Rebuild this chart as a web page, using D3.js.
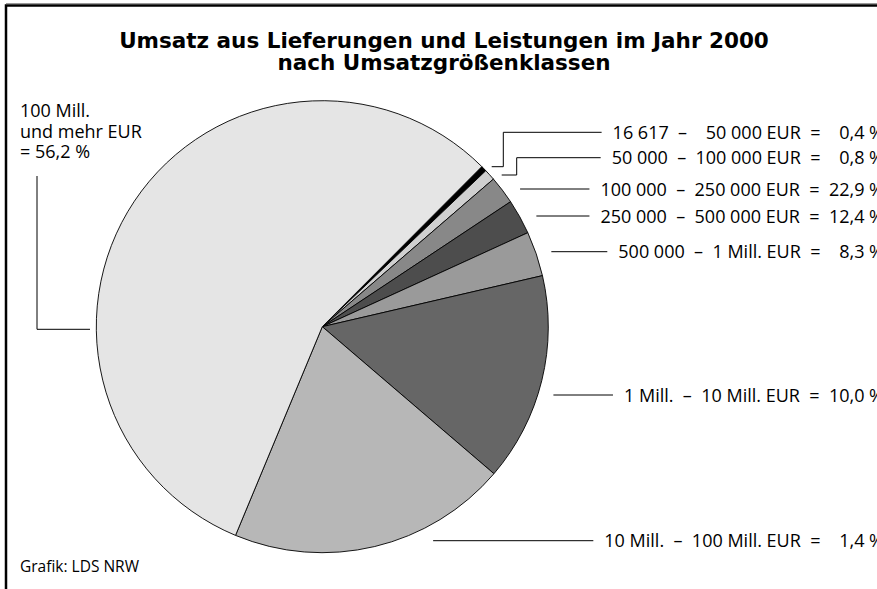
<html>
<head>
<script src="https://d3js.org/d3.v7.min.js"></script>
<style>
    body { margin: 0; background: #fff; }
    text { font-family: "Open Sans", sans-serif; fill: #000; }
</style>
</head>
<body>
<div id="chartcontainer"></div>
<script>
// slice shares as drawn in the picture, clockwise starting at the black sliver
var classes = ["16 617 – 50 000", "50 000 – 100 000", "100 000 – 250 000", "250 000 – 500 000",
               "500 000 – 1 Mill.", "1 Mill. – 10 Mill.", "10 Mill. – 100 Mill.", "100 Mill. und mehr"];
var shares = [0.4, 0.8, 2.0, 2.5, 3.2, 14.9, 20.0, 56.2];
var fills = ["#000000", "#d0d0d0", "#888888", "#4d4d4d", "#9a9a9a", "#666666", "#b7b7b7", "#e5e5e5"];

// labels as printed on the graphic (right-hand column, then the big slice)
var rightLabels = ["16 617  –    50 000 EUR  =    0,4 %",
                   "50 000  –  100 000 EUR  =    0,8 %",
                   "100 000  –  250 000 EUR  =  22,9 %",
                   "250 000  –  500 000 EUR  =  12,4 %",
                   "500 000  –  1 Mill. EUR  =    8,3 %",
                   "1 Mill.  –  10 Mill. EUR  =  10,0 %",
                   "10 Mill.  –  100 Mill. EUR  =    1,4 %"];
var leftLabel = ["100 Mill.", "und mehr EUR", "= 56,2 %"];
var titleLines = ["Umsatz aus Lieferungen und Leistungen im Jahr 2000", "nach Umsatzgrößenklassen"];

var width = 877, height = 589;
var cx = 322.3, cy = 326.7, r = 226;
var startDeg = 44.9;

var svg = d3.select("#chartcontainer").append("svg")
    .attr("width", width).attr("height", height);

// frame
svg.append("line").attr("x1", 6).attr("x2", width).attr("y1", 3.5).attr("y2", 3.5)
    .attr("stroke", "#9a9a9a").attr("stroke-width", 1);
svg.append("path").attr("d", "M6," + height + "V5.5H" + width)
    .attr("fill", "none").attr("stroke", "#000").attr("stroke-width", 2.5);

// title, font sized so the first line spans the same width as in the original
var titles = svg.selectAll(".title").data(titleLines).enter().append("text")
    .attr("class", "title")
    .attr("x", 444).attr("y", function(d, i) { return 48 + i * 22; })
    .attr("text-anchor", "middle")
    .style("font-family", "'DejaVu Sans', sans-serif")
    .style("font-weight", "bold").style("font-size", "20px")
    .text(function(d) { return d; });
var tw = titles.node().getComputedTextLength();
titles.style("font-size", (20 * 650 / tw) + "px");

// pie
var pie = d3.pie().sort(null)
    .startAngle(startDeg * Math.PI / 180)
    .endAngle((startDeg + 360) * Math.PI / 180);
var arc = d3.arc().innerRadius(0).outerRadius(r);

var g = svg.append("g").attr("transform", "translate(" + cx + "," + cy + ")");
g.selectAll("path").data(pie(shares)).enter().append("path")
    .attr("d", arc)
    .attr("fill", function(d, i) { return fills[i]; })
    .attr("stroke", "#000").attr("stroke-width", 0.9)
    .attr("stroke-linejoin", "round");

// right labels with leader lines
var textRight = 884, leadR = r + 15;
var leaderY = [132.3, 157.7, 189, 216, 251.7, 395, 540.7];
// the two thin slices get stepped leaders: [start x, start y, elbow x]
var stepped = [[491.7, 166.7, 503.3], [501.7, 175, 516.7]];

var labels = svg.selectAll(".rlab").data(rightLabels).enter().append("text")
    .attr("class", "rlab")
    .attr("x", textRight)
    .attr("y", function(d, i) { return leaderY[i] + 6.5; })
    .attr("text-anchor", "end")
    .attr("xml:space", "preserve")
    .style("white-space", "pre")
    .style("font-size", "18px")
    .text(function(d) { return d; });

labels.each(function(d, i) {
    var w = this.getComputedTextLength();
    var xEnd = textRight - w - 11;
    var y = leaderY[i];
    var p;
    if (i < stepped.length) {
        var s = stepped[i];
        p = "M" + s[0] + "," + s[1] + "H" + s[2] + "V" + y + "H" + xEnd;
    } else {
        var x0 = cx + Math.sqrt(leadR * leadR - (y - cy) * (y - cy));
        p = "M" + x0 + "," + y + "H" + xEnd;
    }
    svg.append("path").attr("d", p).attr("fill", "none")
        .attr("stroke", "#000").attr("stroke-width", 1);
});

// big slice label
svg.selectAll(".llab").data(leftLabel).enter().append("text")
    .attr("class", "llab")
    .attr("x", 20).attr("y", function(d, i) { return 117.3 + i * 20.5; })
    .style("font-size", "18px")
    .text(function(d) { return d; });
svg.append("path").attr("d", "M37,176V329.3H90")
    .attr("fill", "none").attr("stroke", "#000").attr("stroke-width", 1);

// source
svg.append("text").attr("x", 20).attr("y", 571.5)
    .style("font-size", "15.5px")
    .text("Grafik: LDS NRW");
</script>
</body>
</html>
